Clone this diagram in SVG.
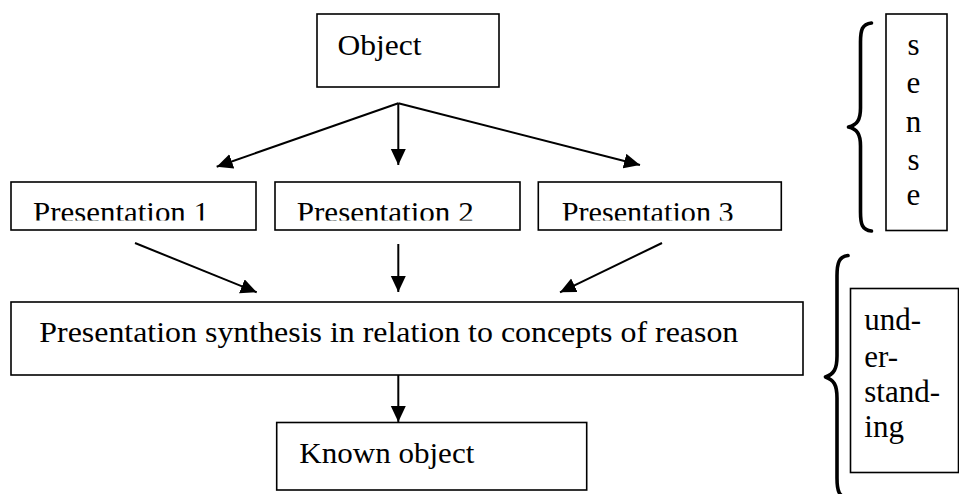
<svg xmlns="http://www.w3.org/2000/svg" width="959" height="494" viewBox="0 0 959 494">
  <style>
    .box { fill: #fff; stroke: #000; stroke-width: 1.6; }
    .arrow { fill: none; stroke: #000; stroke-width: 2; marker-end: url(#head); }
    .brace { fill: none; stroke: #000; stroke-width: 3.6; stroke-linecap: round; stroke-linejoin: round; }
  </style>
  <defs>
    <marker id="head" markerUnits="userSpaceOnUse" markerWidth="17" markerHeight="16" refX="16" refY="7.5" orient="auto">
      <path d="M0,0 L16,7.5 L0,15 z" fill="#000"/>
    </marker>
    <!-- the three presentation labels are cut off just under the baseline -->
    <clipPath id="clipP1"><rect x="11" y="182" width="245" height="38.6"/></clipPath>
    <clipPath id="clipP2"><rect x="275" y="182" width="245" height="38.6"/></clipPath>
    <clipPath id="clipP3"><rect x="538" y="182" width="243" height="38.6"/></clipPath>
  </defs>
  <rect width="959" height="494" fill="#fff"/>

  <!-- connectors -->
  <g id="connectors">
    <path class="arrow" d="M398.3,103.3 L216.7,166.7"/>
    <path class="arrow" d="M398.3,103.3 L398.3,165"/>
    <path class="arrow" d="M398.3,103.3 L640,165"/>
    <path class="arrow" d="M135,243 L256.7,292.3"/>
    <path class="arrow" d="M398.3,244 L398.3,292"/>
    <path class="arrow" d="M662,243 L560,292.3"/>
    <path class="arrow" d="M398.3,375 L398.3,422"/>
  </g>

  <!-- nodes -->
  <g id="object">
    <rect class="box" x="317" y="14" width="182" height="73"/>
    <text font-family="'Liberation Serif'" font-size="30" x="337.5" y="55" textLength="84" lengthAdjust="spacingAndGlyphs">Object</text>
  </g>
  <g id="presentation1">
    <rect class="box" x="11" y="182" width="245" height="48"/>
    <text font-family="'Liberation Serif'" font-size="30" x="33" y="221.5" textLength="176" lengthAdjust="spacingAndGlyphs" clip-path="url(#clipP1)">Presentation 1</text>
  </g>
  <g id="presentation2">
    <rect class="box" x="275" y="182" width="245" height="48"/>
    <text font-family="'Liberation Serif'" font-size="30" x="296.7" y="221.5" textLength="177" lengthAdjust="spacingAndGlyphs" clip-path="url(#clipP2)">Presentation 2</text>
  </g>
  <g id="presentation3">
    <rect class="box" x="538.3" y="182" width="243" height="48"/>
    <text font-family="'Liberation Serif'" font-size="30" x="561.7" y="221.5" textLength="172" lengthAdjust="spacingAndGlyphs" clip-path="url(#clipP3)">Presentation 3</text>
  </g>
  <g id="synthesis">
    <rect class="box" x="11" y="302" width="792" height="73"/>
    <text font-family="'Liberation Serif'" font-size="30" x="39.3" y="342" textLength="699" lengthAdjust="spacingAndGlyphs">Presentation synthesis in relation to concepts of reason</text>
  </g>
  <g id="known-object">
    <rect class="box" x="276.7" y="422.5" width="310" height="67.5"/>
    <text font-family="'Liberation Serif'" font-size="30" x="299.3" y="463.3" textLength="175" lengthAdjust="spacingAndGlyphs">Known object</text>
  </g>

  <!-- sense: bracket, box and vertical label -->
  <g id="sense">
    <path class="brace" d="M871.5,23 C862,24 860.5,30 860.5,42 L860.5,108 C860.5,120 857,125 848.5,127 C857,129 860.5,134 860.5,146 L860.5,212 C860.5,224 862,230 871.5,231"/>
    <rect class="box" x="886" y="14" width="61" height="216.5"/>
    <text font-family="'Liberation Serif'" font-size="31" x="907.5" y="55">s</text>
    <text font-family="'Liberation Serif'" font-size="31" x="906.6" y="93">e</text>
    <text font-family="'Liberation Serif'" font-size="31" x="905.8" y="131.5">n</text>
    <text font-family="'Liberation Serif'" font-size="31" x="907.5" y="169.5">s</text>
    <text font-family="'Liberation Serif'" font-size="31" x="906.6" y="205">e</text>
  </g>

  <!-- understanding: bracket, box and hyphenated label -->
  <g id="understanding">
    <path class="brace" d="M848,255.5 C839,256.5 837,263 837,276 L837,356 C837,369 834,374 825.5,377 C834,380 837,385 837,398 L837,478 C837,491 839,497 848,498"/>
    <rect class="box" x="850.5" y="288.5" width="108" height="184"/>
    <text font-family="'Liberation Serif'" font-size="31" x="864.3" y="330">und-</text>
    <text font-family="'Liberation Serif'" font-size="31" x="864.3" y="366.5">er-</text>
    <text font-family="'Liberation Serif'" font-size="31" x="864.3" y="401.5">stand-</text>
    <text font-family="'Liberation Serif'" font-size="31" x="864.3" y="436.5">ing</text>
  </g>
</svg>
